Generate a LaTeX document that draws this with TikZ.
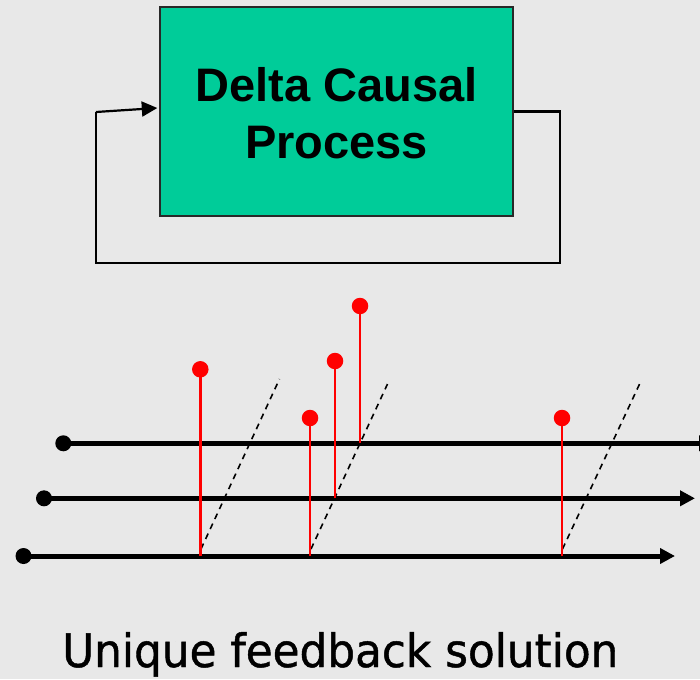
\documentclass[tikz,border=0pt]{standalone}
\usepackage{fontspec}
\setmainfont{Liberation Sans}
\newfontfamily\captionfont[FakeBold=1]{DejaVu Sans}
\usetikzlibrary{arrows.meta}
\definecolor{bg}{RGB}{232,232,232}
\definecolor{procfill}{RGB}{0,204,153}
\definecolor{procedge}{RGB}{40,40,40}
\tikzset{
  procbox/.style={draw=procedge, line width=1.8pt, fill=procfill, minimum width=353pt, minimum height=209pt, inner sep=0pt},
  proctext/.style={font=\fontsize{47}{56}\selectfont\bfseries, anchor=base, inner sep=0pt},
  loopline/.style={line width=2.2pt, -{Triangle[length=15.5pt,width=15pt]}},
  axis/.style={line width=5pt, -{Triangle[length=15pt,width=15pt]}},
  bdot/.style={circle, fill=black, inner sep=0pt, minimum size=16pt},
  rdot/.style={circle, fill=red, inner sep=0pt, minimum size=16.5pt},
  stem/.style={red, line width=2.5pt},
  delayline/.style={line width=1.6pt, dash pattern=on 6pt off 5pt}
}
\begin{document}
\begin{tikzpicture}[x=1pt,y=-1pt]
\fill[bg] (0,0) rectangle (700,679);
\useasboundingbox (0,0) rectangle (700,679);

% process block with feedback loop
\node[procbox] (proc) at (336.5,111.5) {};
\node[proctext] (t1) at (336.5,101.7) {Delta Causal};
\node[proctext] (t2) at (336.5,158) {Process};
\coordinate (fbA) at (560,111.5);
\coordinate (fbB) at (560,263);
\coordinate (fbC) at (96,263);
\coordinate (fbD) at (96,112);
\coordinate (fbE) at (157.3,108);
\draw[line width=2.2pt] (proc.east) -- (fbA) -- (fbB) -- (fbC) -- (fbD);
\draw[loopline] (fbD) -- (fbE);

% three time axes
\node[bdot] (s1) at (63.3,443.3) {};
\node[bdot] (s2) at (44,498.3) {};
\node[bdot] (s3) at (23.5,556) {};
\coordinate (e1) at (714,443.3);
\coordinate (e2) at (695,498.3);
\coordinate (e3) at (675,556);
\draw[axis] (s1.center) -- (e1);
\draw[axis] (s2.center) -- (e2);
\draw[axis] (s3.center) -- (e3);

% delay lines
\coordinate (d1a) at (201,549);
\coordinate (d1b) at (279.5,379);
\coordinate (d2a) at (311,549);
\coordinate (d2b) at (387.5,384);
\coordinate (d3a) at (562.5,549);
\coordinate (d3b) at (640.5,382);
\draw[delayline] (d1a) -- (d1b);
\draw[delayline] (d2a) -- (d2b);
\draw[delayline] (d3a) -- (d3b);

% events
\coordinate (b1) at (200.3,556);
\coordinate (b2) at (310,556);
\coordinate (b3) at (335,498.3);
\coordinate (b4) at (360,443.3);
\coordinate (b5) at (562,556);
\node[rdot] (p1) at (200.3,369.3) {};
\node[rdot] (p2) at (310,418) {};
\node[rdot] (p3) at (335,361) {};
\node[rdot] (p4) at (360,306) {};
\node[rdot] (p5) at (562,418) {};
\draw[stem] (b1) -- (p1.center);
\draw[stem] (b2) -- (p2.center);
\draw[stem] (b3) -- (p3.center);
\draw[stem] (b4) -- (p4.center);
\draw[stem] (b5) -- (p5.center);

% caption
\node[anchor=base west, inner sep=0pt] (cap) at (62,667)
  {\resizebox{556pt}{35pt}{\captionfont Unique feedback solution}};
\end{tikzpicture}
\end{document}
